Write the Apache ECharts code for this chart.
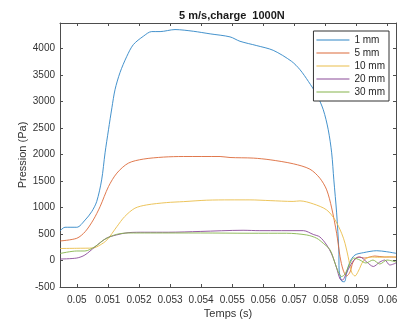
<!DOCTYPE html>
<html>
<head>
<meta charset="utf-8">
<script src="https://cdn.jsdelivr.net/npm/echarts@6/dist/echarts.min.js"></script>
<style>
html,body{margin:0;padding:0;background:#fff;}
#chart{width:404px;height:320px;}
</style>
</head>
<body>
<div id="chart"></div>
<script>
var titleText = '5 m/s,charge  1000N';
var seriesNames = ['1 mm', '5 mm', '10 mm', '20 mm', '30 mm'];
var xTicks = [0.05, 0.051, 0.052, 0.053, 0.054, 0.055, 0.056, 0.057, 0.058, 0.059, 0.06];
var xTickLabels = ['0.05', '0.051', '0.052', '0.053', '0.054', '0.055', '0.056', '0.057', '0.058', '0.059', '0.06'];
var yTicks = [-500, 0, 500, 1000, 1500, 2000, 2500, 3000, 3500, 4000];

var t1 = [0.04946,0.04962,0.05,0.05027,0.05048,0.05064,0.0508,0.05091,0.05102,0.05113,0.05123,0.05139,0.05161,0.05182,0.05214,0.05241,0.05268,0.05316,0.05375,0.05429,0.05493,0.05525,0.05579,0.05632,0.05691,0.05718,0.05745,0.05772,0.05793,0.05809,0.0582,0.05827,0.05836,0.05843,0.05844,0.05852,0.05861,0.05868,0.05879,0.05895,0.05922,0.05965,0.05997,0.06027];
var p1 = [558,628,628,766,923,1112,1523,2034,2469,2885,3226,3548,3856,4077,4234,4323,4323,4361,4329,4280,4223,4140,4058,3969,3761,3604,3383,3131,2847,2469,2034,1523,899,199,-180,-388,-401,-242,-23,104,148,185,166,136];

var t2 = [0.04946,0.05,0.05027,0.05053,0.05075,0.05102,0.05129,0.05166,0.05214,0.05279,0.05343,0.05461,0.05493,0.05568,0.05622,0.05697,0.0575,0.05782,0.05804,0.0582,0.05836,0.05847,0.05857,0.05868,0.05879,0.05889,0.05905,0.05927,0.05959,0.05991,0.06027];
var p2 = [369,420,545,766,1018,1396,1650,1839,1915,1953,1964,1964,1945,1934,1902,1826,1725,1555,1334,993,515,72,-180,-293,-218,-28,66,47,85,66,66];

var t3 = [0.04946,0.05,0.05053,0.05075,0.05097,0.05129,0.05154,0.05187,0.05225,0.05289,0.05343,0.05418,0.05493,0.05557,0.05622,0.05696,0.05718,0.05761,0.05804,0.05831,0.05852,0.05863,0.05873,0.05884,0.05895,0.05906,0.05922,0.05943,0.05975,0.06007,0.06027];
var p3 = [227,231,237,293,388,640,829,988,1050,1094,1112,1139,1145,1145,1131,1116,1126,1069,955,766,515,325,72,-218,-293,-199,-9,66,61,72,61];

var t4 = [0.04946,0.05,0.05026,0.05058,0.05095,0.05127,0.05165,0.05219,0.05294,0.05397,0.05535,0.05589,0.05729,0.05761,0.05782,0.05804,0.0582,0.05836,0.05847,0.05855,0.05866,0.05879,0.05895,0.05911,0.05933,0.05954,0.05975,0.05991,0.06007,0.06027];
var p4 = [28,47,104,255,420,482,526,534,534,549,571,564,564,492,445,293,123,-142,-350,-369,-255,-104,28,66,-28,-113,-28,9,-85,-47];

var t5 = [0.04946,0.05,0.05026,0.05058,0.0509,0.05127,0.05165,0.05236,0.05397,0.05557,0.05675,0.0574,0.05772,0.05793,0.05815,0.05831,0.05841,0.05852,0.05863,0.05876,0.05892,0.05911,0.0593,0.05953,0.05975,0.05998,0.06027];
var p5 = [132,180,180,261,401,492,520,520,520,515,515,482,420,325,199,-53,-212,-303,-255,-85,47,9,-47,9,-66,9,-28];

var colors = ['#2f86c6', '#dc6a3a', '#eabd4a', '#8a4a98', '#86b44c'];
var xs = [t1, t2, t3, t4, t5];
var ys = [p1, p2, p3, p4, p5];

function zip(a, b) { return a.map(function (v, i) { return [v, b[i]]; }); }

var font = 'Liberation Sans, Arial, sans-serif';
var axisColor = '#4d4d4d';
var textColor = '#333333';
var xMin = 0.04946, xMax = 0.06027, yMin = -500, yMax = 4485;

var chart = echarts.init(document.getElementById('chart'), null, {renderer: 'canvas'});
var option = {
  animation: false,
  backgroundColor: '#ffffff',
  color: colors,
  title: {
    text: titleText, left: 174, top: 5,
    textStyle: {fontFamily: font, fontSize: 11, fontWeight: 'bold', color: '#1a1a1a'}
  },
  grid: {left: 60, right: 8, top: 23, bottom: 33, containLabel: false, outerBoundsMode: 'none'},
  legend: {
    orient: 'vertical', right: 15, top: 31,
    backgroundColor: '#ffffff', borderColor: '#333333', borderWidth: 1,
    padding: [3, 4, 3, 3], itemGap: 1, itemWidth: 33, itemHeight: 1,
    icon: 'rect',
    textStyle: {fontFamily: font, fontSize: 10, color: '#262626', lineHeight: 12},
    data: seriesNames
  },
  xAxis: [{
    type: 'value', min: xMin, max: xMax, position: 'bottom',
    name: 'Temps (s)', nameLocation: 'middle', nameGap: 21, nameMoveOverlap: false,
    nameTextStyle: {fontFamily: font, fontSize: 11, color: textColor},
    axisLine: {onZero: false, lineStyle: {color: axisColor, width: 1}},
    axisTick: {inside: true, length: 3, customValues: xTicks, lineStyle: {color: axisColor}},
    axisLabel: {customValues: xTicks, fontFamily: font, fontSize: 10, color: textColor, margin: 8,
      formatter: function (v) { var i = xTicks.findIndex(function (t) { return Math.abs(t - v) < 1e-7; }); return i >= 0 ? xTickLabels[i] : ''; }},
    splitLine: {show: false}
  }, {
    type: 'value', min: xMin, max: xMax, position: 'top',
    axisLine: {onZero: false, lineStyle: {color: axisColor, width: 1}},
    axisTick: {inside: true, length: 3, customValues: xTicks, lineStyle: {color: axisColor}},
    axisLabel: {show: false}, splitLine: {show: false}
  }],
  yAxis: [{
    type: 'value', min: yMin, max: yMax, position: 'left',
    name: 'Pression (Pa)', nameLocation: 'middle', nameGap: 32, nameMoveOverlap: false,
    nameTextStyle: {fontFamily: font, fontSize: 11, color: textColor},
    axisLine: {show: true, onZero: false, lineStyle: {color: axisColor, width: 1}},
    axisTick: {show: true, inside: true, length: 3, customValues: yTicks, lineStyle: {color: axisColor}},
    axisLabel: {customValues: yTicks, fontFamily: font, fontSize: 10, color: textColor, margin: 5,
      formatter: function (v) { return String(Math.round(v)); }},
    splitLine: {show: false}
  }, {
    type: 'value', min: yMin, max: yMax, position: 'right',
    axisLine: {show: true, onZero: false, lineStyle: {color: axisColor, width: 1}},
    axisTick: {show: true, inside: true, length: 3, customValues: yTicks, lineStyle: {color: axisColor}},
    axisLabel: {show: false}, splitLine: {show: false}
  }],
  series: seriesNames.map(function (n, i) {
    return {
      name: n, type: 'line', xAxisIndex: 0, yAxisIndex: 0,
      data: zip(xs[i], ys[i]), symbol: 'none', smooth: 0.3,
      lineStyle: {width: 0.9, color: colors[i]}, itemStyle: {color: colors[i]}
    };
  })
};
chart.setOption(option);
</script>
</body>
</html>
